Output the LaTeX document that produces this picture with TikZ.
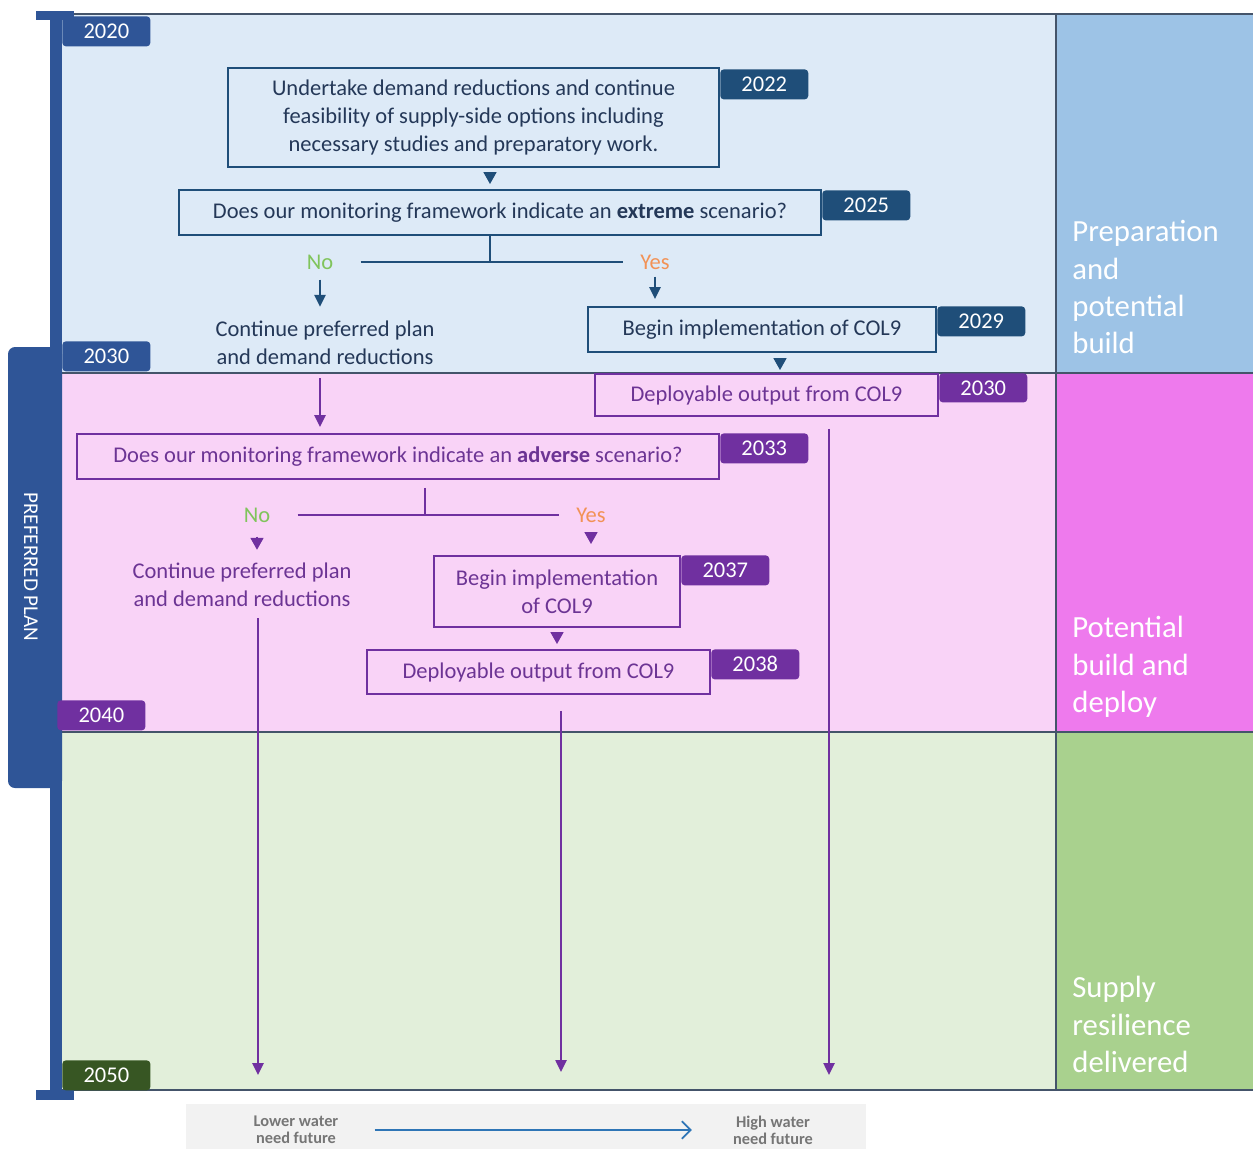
\documentclass[tikz,border=0pt]{standalone}
\usepackage{fontspec}
\setmainfont{Carlito}
\usepackage{tikz}
\usetikzlibrary{arrows.meta,positioning,calc}
\definecolor{navy}{RGB}{31,78,121}
\definecolor{planblue}{RGB}{47,85,151}
\definecolor{plum}{RGB}{112,48,160}
\definecolor{forest}{RGB}{55,86,35}
\definecolor{bandblue}{RGB}{221,234,247}
\definecolor{sideblue}{RGB}{157,195,230}
\definecolor{bandpink}{RGB}{249,211,247}
\definecolor{sidepink}{RGB}{238,122,237}
\definecolor{bandgreen}{RGB}{226,239,218}
\definecolor{sidegreen}{RGB}{169,209,142}
\definecolor{nogreen}{RGB}{128,196,92}
\definecolor{yesorange}{RGB}{242,146,86}
\definecolor{navytext}{RGB}{36,56,88}
\definecolor{plumtext}{RGB}{108,52,148}
\definecolor{rulegrey}{RGB}{68,84,106}
\definecolor{legendgrey}{RGB}{242,242,242}
\definecolor{legendtext}{RGB}{118,118,118}
\definecolor{legendarrow}{RGB}{46,117,182}

\begin{document}
\begin{tikzpicture}[x=0.02cm,y=-0.02cm,
box/.style={draw,line width=1.1pt,align=center,inner sep=0pt,font=\fontsize{12.8}{15.9}\selectfont},
bbox/.style={box,draw=navy,text=navytext},
pbox/.style={box,draw=plum,text=plumtext},
tag/.style={fill=#1,text=white,rounded corners=2pt,minimum width=1.76cm,minimum height=0.6cm,inner sep=0pt,font=\fontsize{12.8}{14}\selectfont},
note/.style={align=center,inner sep=0pt,font=\fontsize{12.8}{15.9}\selectfont},
ans/.style={inner ysep=0pt,inner xsep=0.34cm,font=\fontsize{12.8}{15}\selectfont},
side/.style={anchor=north west,align=left,inner sep=0pt,text=white,font=\fontsize{17.5}{21.3}\selectfont},
tri/.style={-{Triangle[length=0.24cm,width=0.26cm]},draw=#1,line width=1pt},
arr/.style={-{Triangle[length=0.24cm,width=0.22cm]},draw=#1,line width=1.4pt},
link/.style={draw=#1,line width=1.1pt}
]
\useasboundingbox (0,0) rectangle (1253,1149);

\fill[bandblue] (60,14) rectangle (1055,373);
\fill[sideblue] (1057,14) rectangle (1253,373);
\fill[bandpink] (60,373) rectangle (1055,732);
\fill[sidepink] (1057,373) rectangle (1253,732);
\fill[bandgreen] (60,732) rectangle (1055,1090);
\fill[sidegreen] (1057,732) rectangle (1253,1090);
\draw[rulegrey,line width=0.7pt] (60,14) -- (1253,14) (60,373) -- (1253,373) (60,732) -- (1253,732) (60,1090) -- (1253,1090);
\draw[rulegrey,line width=1pt] (1056,14) -- (1056,1090);

\fill[planblue,rounded corners=4pt] (8,347) rectangle (62,788);
\fill[planblue] (36,11) rectangle (74,20);
\fill[planblue] (50,11) rectangle (62,1100);
\fill[planblue] (36,1090) rectangle (74,1100);
\node[rotate=-90,text=white,font=\fontsize{12}{14}\selectfont] (plan) at (31,567) {PREFERRED PLAN};

\node[tag=planblue,anchor=north west] (y2020) at (62,16) {2020};
\node[tag=planblue,anchor=north west] (y2030) at (62,341) {2030};
\node[tag=plum,anchor=north west] (y2040) at (57,700) {2040};
\node[tag=forest,anchor=north west] (y2050) at (62,1060) {2050};

\node[bbox,minimum width=9.82cm,minimum height=1.98cm] (undertake) at (473.5,117.5) {Undertake demand reductions and continue\\feasibility of supply-side options including\\necessary studies and preparatory work.};
\node[tag=navy,anchor=north west] (t2022) at ($(undertake.north east)+(0,2)$) {2022};
\node[bbox,minimum width=12.84cm,minimum height=0.9cm] (extreme) at (500,212.5) {Does our monitoring framework indicate an \textbf{extreme} scenario?};
\node[tag=navy,anchor=north west] (t2025) at ($(extreme.north east)+(0,1)$) {2025};
\coordinate (split1) at (490,262);
\node[ans,text=nogreen] (no1) at (320,262) {No};
\node[ans,text=yesorange] (yes1) at (655,262) {Yes};
\node[note,text=navytext] (cont1) at (325,343) {Continue preferred plan\\and demand reductions};
\node[bbox,minimum width=6.96cm,minimum height=0.9cm] (begin1) at (762,329.5) {Begin implementation of COL9};
\node[tag=navy,anchor=north west] (t2029) at (begin1.north east) {2029};
\coordinate (drop1) at ($(begin1.south)+(18,0)$);
\node[pbox,minimum width=6.86cm,minimum height=0.84cm] (deploy1) at (766.5,395) {Deployable output from COL9};
\node[tag=plum,anchor=north west,minimum height=0.58cm] (t2030) at (deploy1.north east) {2030};

\node[pbox,minimum width=12.84cm,minimum height=0.9cm] (adverse) at (398,456.5) {Does our monitoring framework indicate an \textbf{adverse} scenario?};
\node[tag=plum,anchor=north west] (t2033) at (adverse.north east) {2033};
\coordinate (split2) at (425,515);
\node[ans,text=nogreen] (no2) at (257,515) {No};
\node[ans,text=yesorange] (yes2) at (591,515) {Yes};
\node[note,text=plumtext] (cont2) at (242,585) {Continue preferred plan\\and demand reductions};
\node[pbox,minimum width=4.92cm,minimum height=1.42cm] (begin2) at (557,591.5) {Begin implementation\\of COL9};
\node[tag=plum,anchor=north west] (t2037) at (begin2.north east) {2037};
\node[pbox,minimum width=6.86cm,minimum height=0.88cm] (deploy2) at (538.5,672) {Deployable output from COL9};
\node[tag=plum,anchor=north west] (t2038) at (deploy2.north east) {2038};

\coordinate (end1) at (258,1075);
\coordinate (end2) at (561,1072);
\coordinate (end3) at (829,1075);

\draw[tri=navy,shorten <=0.1cm,shorten >=0.1cm] (split1 |- undertake.south) -- (split1 |- extreme.north);
\draw[link=navy] (split1 |- extreme.south) -- (split1);
\draw[link=navy] ([xshift=0.2cm]no1.east) -- (yes1.west);
\draw[arr=navy,shorten <=0.2cm,shorten >=0.28cm] (no1.south) -- (no1 |- cont1.north);
\draw[arr=navy,shorten <=0.14cm,shorten >=0.14cm] (yes1.south) -- (yes1 |- begin1.north);
\draw[tri=navy,shorten <=0.16cm,shorten >=0.06cm] (drop1) -- (drop1 |- deploy1.north);
\draw[arr=plum,shorten <=0.26cm,shorten >=0.12cm] (no1 |- cont1.south) -- (no1 |- adverse.north);
\draw[link=plum,shorten <=0.16cm] (split2 |- adverse.south) -- (split2);
\draw[link=plum] ([xshift=0.2cm]no2.east) -- (yes2.west);
\draw[tri=plum,shorten <=0.28cm,shorten >=0.26cm] (no2.south) -- (no2 |- cont2.north);
\draw[tri=plum,shorten <=0.2cm,shorten >=0.22cm] (yes2.south) -- (yes2 |- begin2.north);
\draw[tri=plum,shorten <=0.12cm,shorten >=0.1cm] (begin2.south) -- (begin2.south |- deploy2.north);
\draw[arr=plum,shorten <=0.22cm] (end1 |- cont2.south) -- (end1);
\draw[arr=plum,shorten <=0.32cm] (end2 |- deploy2.south) -- (end2);
\draw[arr=plum,shorten <=0.24cm] (end3 |- deploy1.south) -- (end3);

\node[side] (phase1) at (1072,220) {Preparation\\and\\potential\\build};
\node[side] (phase2) at (1072,616) {Potential\\build and\\deploy};
\node[side] (phase3) at (1072,976) {Supply\\resilience\\delivered};

\fill[legendgrey] (186,1104) rectangle (866,1149);
\node[align=center,text=legendtext,font=\bfseries\fontsize{9.3}{9.7}\selectfont] (lower) at (296,1130) {Lower water\\need future};
\node[align=center,text=legendtext,font=\bfseries\fontsize{9.3}{9.7}\selectfont] (higher) at (773,1130) {High water\\need future};
\draw[legendarrow,line width=1pt,-{Straight Barb[length=5pt]},shorten <=0.6cm,shorten >=0.7cm] (lower.east) -- (higher.west);
\end{tikzpicture}
\end{document}
